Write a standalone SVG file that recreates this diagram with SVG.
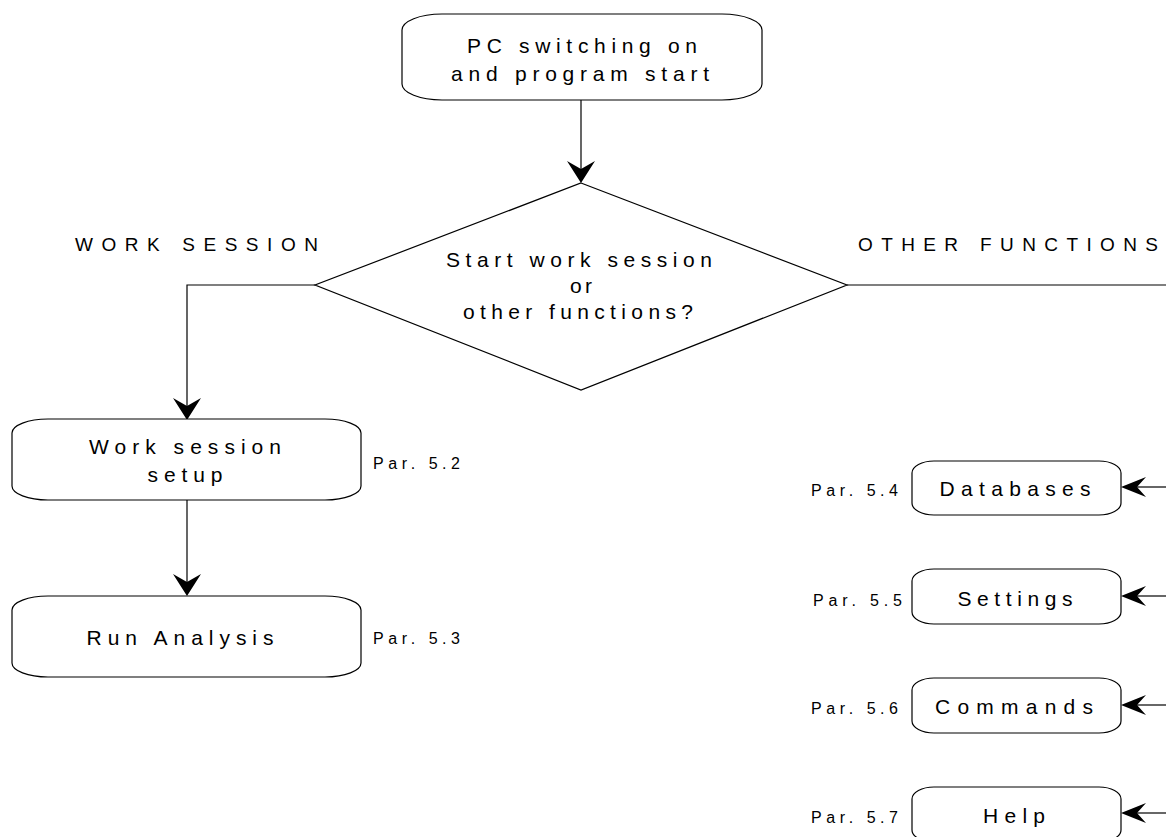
<svg xmlns="http://www.w3.org/2000/svg" width="1166" height="837" viewBox="0 0 1166 837">
<style>
.box{fill:#fff;stroke:#000;stroke-width:1.2}
.ln{fill:none;stroke:#000;stroke-width:1.2}
.ah{fill:#000;stroke:none}
text{font-family:"Liberation Sans",Arial,sans-serif;fill:#000}
.t{font-size:21px;text-anchor:middle}
.h{font-size:19px}
.p{font-size:16px}
</style>
<rect width="1166" height="837" fill="#fff"/>
<g id="connectors">
<path class="ln" d="M581,100 V170"/>
<polygon class="ah" points="581,183 567,161 581,169 595,161"/>
<path class="ln" d="M315,285 H187 V408"/>
<polygon class="ah" points="187,420 173,398 187,406 201,398"/>
<path class="ln" d="M187,500 V584"/>
<polygon class="ah" points="187,596 173,574 187,582 201,574"/>
<path class="ln" d="M847,285 H1166"/>
<path class="ln" d="M1166,487 H1135"/>
<polygon class="ah" points="1121,487 1146,477 1137,487 1146,497"/>
<path class="ln" d="M1166,596 H1135"/>
<polygon class="ah" points="1121,596 1146,586 1137,596 1146,606"/>
<path class="ln" d="M1166,705 H1135"/>
<polygon class="ah" points="1121,705 1146,695 1137,705 1146,715"/>
<path class="ln" d="M1166,813 H1135"/>
<polygon class="ah" points="1121,813 1146,803 1137,813 1146,823"/>
</g>
<g id="start">
<rect class="box" x="402" y="14" width="360" height="86" rx="40" ry="16"/>
<text class="t" x="582" y="53" textLength="230" lengthAdjust="spacing">PC switching on</text>
<text class="t" x="580" y="81" textLength="258" lengthAdjust="spacing">and program start</text>
</g>
<g id="decision">
<polygon class="box" points="581,183 847,285 581,390 315,285"/>
<text class="t" x="579" y="267" textLength="266" lengthAdjust="spacing">Start work session</text>
<text class="t" x="581" y="293" textLength="22" lengthAdjust="spacing">or</text>
<text class="t" x="578" y="319" textLength="230" lengthAdjust="spacing">other functions?</text>
</g>
<g id="label-work">
<text class="h" x="75" y="251" textLength="243" lengthAdjust="spacing">WORK SESSION</text>
</g>
<g id="label-other">
<text class="h" x="858" y="251" textLength="300" lengthAdjust="spacing">OTHER FUNCTIONS</text>
</g>
<g id="setup">
<rect class="box" x="12" y="419" width="349" height="81" rx="36" ry="14"/>
<text class="t" x="185" y="454" textLength="192" lengthAdjust="spacing">Work session</text>
<text class="t" x="185" y="482" textLength="75" lengthAdjust="spacing">setup</text>
<text class="p" x="373" y="469" textLength="87" lengthAdjust="spacing">Par. 5.2</text>
</g>
<g id="run">
<rect class="box" x="12" y="596" width="349" height="81" rx="36" ry="14"/>
<text class="t" x="180" y="645" textLength="187" lengthAdjust="spacing">Run Analysis</text>
<text class="p" x="373" y="644" textLength="87" lengthAdjust="spacing">Par. 5.3</text>
</g>
<g id="databases">
<rect class="box" x="912" y="461" width="209" height="54" rx="22" ry="12"/>
<text class="t" x="1015" y="496" textLength="151" lengthAdjust="spacing">Databases</text>
<text class="p" x="811" y="496" textLength="87" lengthAdjust="spacing">Par. 5.4</text>
</g>
<g id="settings">
<rect class="box" x="912" y="569" width="209" height="55" rx="22" ry="12"/>
<text class="t" x="1015" y="606" textLength="115" lengthAdjust="spacing">Settings</text>
<text class="p" x="813" y="606" textLength="89" lengthAdjust="spacing">Par. 5.5</text>
</g>
<g id="commands">
<rect class="box" x="912" y="678" width="209" height="55" rx="22" ry="12"/>
<text class="t" x="1014" y="714" textLength="158" lengthAdjust="spacing">Commands</text>
<text class="p" x="811" y="714" textLength="87" lengthAdjust="spacing">Par. 5.6</text>
</g>
<g id="help">
<rect class="box" x="912" y="787" width="209" height="55" rx="22" ry="12"/>
<text class="t" x="1014" y="823" textLength="62" lengthAdjust="spacing">Help</text>
<text class="p" x="811" y="823" textLength="87" lengthAdjust="spacing">Par. 5.7</text>
</g>
</svg>
